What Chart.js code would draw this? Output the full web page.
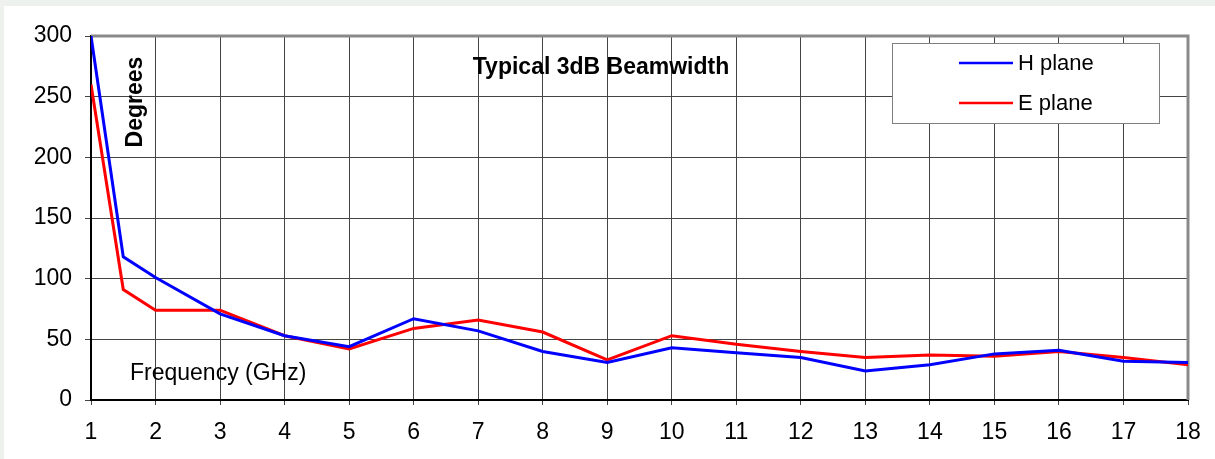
<!DOCTYPE html>
<html>
<head>
<meta charset="utf-8">
<script src="https://cdn.jsdelivr.net/npm/chart.js@4.4.0/dist/chart.umd.min.js"></script>
<style>
  body { margin: 0; background: #fff; }
  #wrap { width: 1215px; height: 459px; position: relative; }
</style>
</head>
<body>
<div id="wrap"><canvas id="beamChart" width="1215" height="459"></canvas></div>
<script>
'use strict';

// frequency (GHz) and beamwidth (degrees)
let freq = [1, 1.5, 2, 3, 4, 5, 6, 7, 8, 9, 10, 11, 12, 13, 14, 15, 16, 17, 18];
let hPlane = [300, 118, 101, 71, 53, 44, 67, 57, 40, 31, 43, 39, 35, 24, 29, 38, 41, 32, 31];
let ePlane = [260, 91, 74, 74, 53, 42, 59, 66, 56, 33, 53, 46, 40, 35, 37, 36, 40, 35, 29];
let yTicks = [0, 50, 100, 150, 200, 250, 300];
let seriesNames = ['H plane', 'E plane'];

function toPoints(values) {
  let pts = [];
  for (let i = 0; i < freq.length; i++) {
    pts.push({ x: freq[i], y: values[i] });
  }
  return pts;
}

let textFont = 'Liberation Sans, Arial, sans-serif';

let decorations = {
  id: 'decorations',
  beforeDraw(chart) {
    let ctx = chart.ctx;
    ctx.save();
    ctx.fillStyle = '#ffffff';
    ctx.fillRect(0, 0, chart.width, chart.height);
    ctx.fillStyle = '#eef2ee';
    ctx.fillRect(0, 0, chart.width, 6);
    ctx.fillRect(0, 0, 4, chart.height);
    ctx.restore();
  },
  beforeDatasetsDraw(chart) {
    let ctx = chart.ctx;
    let a = chart.chartArea;
    ctx.save();
    ctx.strokeStyle = '#8a8a8a';
    ctx.lineWidth = 3;
    ctx.beginPath();
    ctx.moveTo(a.left, a.top);
    ctx.lineTo(a.right, a.top);
    ctx.lineTo(a.right, a.bottom);
    ctx.stroke();
    ctx.restore();
  },
  afterDraw(chart) {
    let ctx = chart.ctx;
    ctx.save();
    ctx.fillStyle = '#000';

    // title
    ctx.font = 'bold 23px ' + textFont;
    ctx.textAlign = 'center';
    ctx.textBaseline = 'middle';
    ctx.fillText('Typical 3dB Beamwidth', 601, 68);

    // y title, inside plot
    ctx.save();
    ctx.translate(136, 102);
    ctx.rotate(-Math.PI / 2);
    ctx.fillText('Degrees', 0, 0);
    ctx.restore();

    // x title, inside plot
    ctx.font = '23px ' + textFont;
    ctx.textAlign = 'left';
    ctx.fillText('Frequency (GHz)', 130, 374);

    // legend box
    ctx.fillStyle = '#fff';
    ctx.fillRect(892, 43, 267, 80);
    ctx.strokeStyle = '#808080';
    ctx.lineWidth = 1;
    ctx.strokeRect(892.5, 43.5, 267, 80);
    let rows = [63, 103];
    ctx.font = '22px ' + textFont;
    for (let i = 0; i < chart.data.datasets.length; i++) {
      let ds = chart.data.datasets[i];
      ctx.strokeStyle = ds.borderColor;
      ctx.lineWidth = 2.5;
      ctx.beginPath();
      ctx.moveTo(959, rows[i]);
      ctx.lineTo(1013, rows[i]);
      ctx.stroke();
      ctx.fillStyle = '#000';
      ctx.fillText(ds.label, 1018, rows[i] + 1);
    }
    ctx.restore();
  }
};

let config = {
  type: 'line',
  data: {
    datasets: [
      {
        label: seriesNames[0],
        data: toPoints(hPlane),
        borderColor: '#0000ff',
        borderWidth: 3,
        pointRadius: 0,
        tension: 0
      },
      {
        label: seriesNames[1],
        data: toPoints(ePlane),
        borderColor: '#ff0000',
        borderWidth: 3,
        pointRadius: 0,
        tension: 0
      }
    ]
  },
  options: {
    responsive: false,
    animation: false,
    layout: { padding: { left: 0, top: 36, right: 27, bottom: 0 } },
    plugins: {
      legend: { display: false },
      tooltip: { enabled: false }
    },
    scales: {
      x: {
        type: 'linear',
        min: 1,
        max: 18,
        ticks: {
          stepSize: 1,
          color: '#000',
          padding: 14,
          maxRotation: 0,
          font: { family: textFont, size: 23 }
        },
        grid: { color: '#444', lineWidth: 1, tickLength: 5, tickColor: '#444' },
        border: { color: '#000', width: 2 },
        afterFit(scale) { scale.height = 59; }
      },
      y: {
        min: 0,
        max: 300,
        afterBuildTicks(scale) { scale.ticks = yTicks.map(v => ({ value: v })); },
        ticks: {
          color: '#000',
          padding: 13,
          font: { family: textFont, size: 23 }
        },
        grid: { color: '#444', lineWidth: 1, tickLength: 6, tickColor: '#444' },
        border: { color: '#000', width: 2 },
        afterFit(scale) { scale.width = 91; }
      }
    }
  },
  plugins: [decorations]
};

let beamChart = new Chart(document.getElementById('beamChart'), config);
</script>
</body>
</html>
